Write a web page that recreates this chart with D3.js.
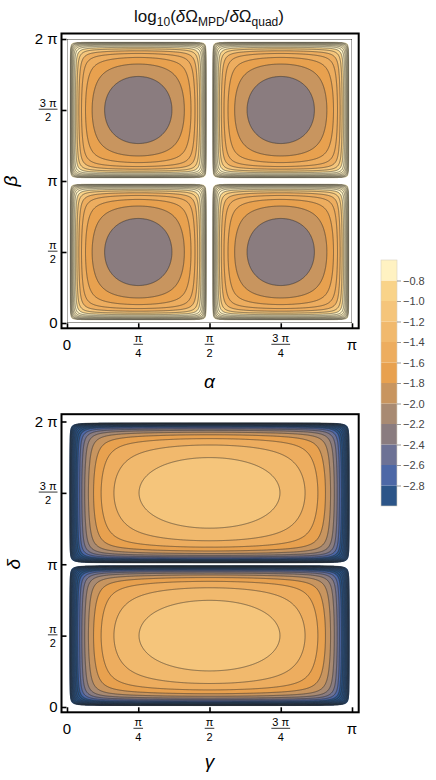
<!DOCTYPE html>
<html>
<head>
<meta charset="utf-8">
<script src="https://cdn.jsdelivr.net/npm/d3@7"></script>
<style>
  body { margin: 0; background: #fff; }
  svg text { font-family: "Liberation Sans", Arial, sans-serif; }
</style>
</head>
<body>
<div id="chart"></div>
<script>
var width = 436, height = 780
var PI = Math.PI

// legend bands of log10(dOmega_MPD / dOmega_quad)
var bandEdges = [-3.0, -2.8, -2.6, -2.4, -2.2, -2.0, -1.8, -1.6, -1.4, -1.2, -1.0, -0.8, -0.6]
var bandColors = ['#2c5588', '#4d68a6', '#6d7295', '#8a7c7f', '#a88a72', '#c8955f',
  '#e8a14f', '#edad5f', '#f1b96d', '#f5c57b', '#f9d389', '#fff2c2']
var legendTicks = [-2.8, -2.6, -2.4, -2.2, -2.0, -1.8, -1.6, -1.4, -1.2, -1.0, -0.8]

// contour levels (also outside the colour range, where the colour is clipped)
var contourLevels = [-4.6, -4.4, -4.2, -4.0, -3.8, -3.6, -3.4, -3.2, -3.0, -2.8, -2.6,
  -2.4, -2.2, -2.0, -1.8, -1.6, -1.4, -1.2, -1.0, -0.8, -0.6, -0.4, -0.2, 0.0, 0.2, 0.4]

// surface fits: [offset, slope, corner rounding]
// value = offset + slope * log10(2 + hx + hy + rounding * hx * hy),
// h grows from 0 at a cell centre to infinity at its edge
var topFit = [-2.93, 1.77, 0.03]
var topFreq = [2, 1]
var topCut = [-9, 0.6]      // outside this range the plot is left blank
var topColorShift = 0.2     // top panel bands read one step lighter than the legend
var bottomFit = [-0.523, -1.6, 0.08]
var bottomFreq = [1, 1]
var bottomCut = [-4.8, 9]
var bottomColorShift = 0

// ticks
var xTicks = [0, PI / 4, PI / 2, 3 * PI / 4, PI]
var xTickLabels = [['0'], ['π', '4'], ['π', '2'], ['3 π', '4'], ['π']]
var yTicks = [0, PI / 2, PI, 3 * PI / 2, 2 * PI]
var yTickLabels = [['0'], ['π', '2'], ['π'], ['3 π', '2'], ['2 π']]

var titleParts = [['log', ''], ['10', 'sub'], ['(', ''], ['δ', 'it'], ['Ω', ''], ['MPD', 'sub'],
  ['/', ''], ['δ', 'it'], ['Ω', ''], ['quad', 'sub'], [')', '']]

var panels = [
  { fit: topFit, freq: topFreq, cut: topCut, shift: topColorShift, xLabel: 'α', yLabel: 'β',
    frameTop: 33.5, frameBottom: 328.3, y0: 323, y2pi: 39, xLabelY: 388, yLabelX: 16.5 },
  { fit: bottomFit, freq: bottomFreq, cut: bottomCut, shift: bottomColorShift, xLabel: 'γ', yLabel: 'δ',
    frameTop: 414.2, frameBottom: 712.3, y0: 707, y2pi: 421.5, xLabelY: 768, yLabelX: 19.5 }
]

var frameLeft = 61.5, frameRight = 358.7

// distance term of one angle: 0 at the cell centre, blows up at the cell edge
function edgeTerm(angle) {
  var c2 = Math.sin(angle) * Math.sin(angle)
  var q = 1 - c2
  return q * (1 - 2 * q / 3) / c2
}

var svg = d3.select('#chart').append('svg')
  .attr('width', width)
  .attr('height', height)

var colorScale = d3.scaleThreshold()
  .domain(bandEdges.slice(1, -1))
  .range(bandColors)

var x = d3.scaleLinear().domain([0, PI]).range([67, 352])

panels.forEach(function(p, k) {
  var y = d3.scaleLinear().domain([0, 2 * PI]).range([p.y0, p.y2pi])

  // sample the surface on a grid, two samples per pixel
  var nx = 2 * Math.round(x(PI) - x(0))
  var ny = 2 * Math.round(p.y0 - p.y2pi)
  var gx = d3.scaleLinear().domain([0, nx]).range(x.range())
  var gy = d3.scaleLinear().domain([0, ny]).range([p.y2pi, p.y0])
  var values = new Float64Array(nx * ny)
  for (var j = 0; j < ny; j++) {
    for (var i = 0; i < nx; i++) {
      var a = x.invert(gx(i + 0.5)), b = y.invert(gy(j + 0.5))
      var hx = edgeTerm(p.freq[0] * a), hy = edgeTerm(p.freq[1] * b)
      var v = p.fit[0] + p.fit[1] * Math.log10(2 + hx + hy + p.fit[2] * hx * hy)
      values[j * nx + i] = isFinite(v) ? Math.max(-9, Math.min(9, v)) : (p.fit[1] > 0 ? 9 : -9)
    }
  }
  var ext = d3.extent(values)
  var low = Math.max(ext[0], p.cut[0])

  var proj = d3.geoTransform({
    point: function(px, py) { this.stream.point(gx(px), gy(py)) }
  })
  var path = d3.geoPath(proj)

  var clipId = 'clip-' + k
  svg.append('clipPath').attr('id', clipId)
    .append('rect')
    .attr('x', x(0) + 0.4).attr('y', p.y2pi + 0.4)
    .attr('width', x(PI) - x(0) - 0.8).attr('height', p.y0 - p.y2pi - 0.8)

  var g = svg.append('g').attr('clip-path', 'url(#' + clipId + ')')

  var levels = contourLevels.filter(l => l > low && l < p.cut[1])

  // base region, then each band above a contour level
  var fills = d3.contours().size([nx, ny]).thresholds([p.cut[0]].concat(levels))(values)
  g.selectAll('path.band')
    .data(fills)
    .enter()
    .append('path')
    .attr('class', 'band')
    .attr('d', path)
    .attr('fill', (d, i) => i === 0 ? colorScale(low) : colorScale(d.value + p.shift))

  var lines = d3.contours().size([nx, ny]).thresholds(levels)(values)
  g.selectAll('path.line')
    .data(lines)
    .enter()
    .append('path')
    .attr('class', 'line')
    .attr('d', path)
    .attr('fill', 'none')
    .attr('stroke', '#2a2a2a')
    .attr('stroke-opacity', 0.7)
    .attr('stroke-width', 0.75)

  // blank out where the value is above the plot range
  if (p.cut[1] < ext[1]) {
    var blank = d3.contours().size([nx, ny]).thresholds([p.cut[1]])(values)
    g.selectAll('path.blank')
      .data(blank)
      .enter()
      .append('path')
      .attr('d', path)
      .attr('fill', '#fff')
  }

  // frame
  svg.append('rect')
    .attr('x', frameLeft).attr('y', p.frameTop)
    .attr('width', frameRight - frameLeft).attr('height', p.frameBottom - p.frameTop)
    .attr('fill', 'none')
    .attr('stroke', '#000')
    .attr('stroke-width', 2)

  // inward ticks
  var xAxis = svg.append('g')
    .attr('transform', `translate(0,${p.frameBottom})`)
    .call(d3.axisBottom(x).tickValues(xTicks).tickSize(-5).tickFormat(''))
  xAxis.select('.domain').remove()
  xAxis.selectAll('line').attr('stroke-width', 1.6)

  var yAxis = svg.append('g')
    .attr('transform', `translate(${frameLeft},0)`)
    .call(d3.axisLeft(y).tickValues(yTicks).tickSize(-5).tickFormat(''))
  yAxis.select('.domain').remove()
  yAxis.selectAll('line').attr('stroke-width', 1.6)

  // x tick labels
  xTicks.forEach(function(t, i) {
    var parts = xTickLabels[i]
    var cx = x(t)
    if (parts.length === 1) {
      svg.append('text').text(parts[0])
        .attr('x', cx).attr('y', p.frameBottom + 21.5)
        .attr('text-anchor', 'middle')
        .attr('font-size', 15)
    } else {
      var bar = p.frameBottom + 16
      var num = svg.append('text').text(parts[0])
        .attr('x', cx).attr('y', bar - 2.5)
        .attr('text-anchor', 'middle').attr('font-size', 11)
      svg.append('text').text(parts[1])
        .attr('x', cx).attr('y', bar + 12.5)
        .attr('text-anchor', 'middle').attr('font-size', 11)
      var w = num.node().getComputedTextLength() + 2
      svg.append('line')
        .attr('x1', cx - w / 2).attr('x2', cx + w / 2)
        .attr('y1', bar).attr('y2', bar)
        .attr('stroke', '#000').attr('stroke-width', 0.8)
    }
  })

  // y tick labels
  yTicks.forEach(function(t, i) {
    var parts = yTickLabels[i]
    var cy = y(t)
    var right = 57.5
    if (parts.length === 1) {
      svg.append('text').text(parts[0])
        .attr('x', right).attr('y', cy + 5.3)
        .attr('text-anchor', 'end')
        .attr('font-size', 15)
    } else {
      var num = svg.append('text').text(parts[0])
        .attr('font-size', 11)
      var w = num.node().getComputedTextLength() + 2
      var cx = right - w / 2
      num.attr('x', cx).attr('y', cy - 3).attr('text-anchor', 'middle')
      svg.append('text').text(parts[1])
        .attr('x', cx).attr('y', cy + 11)
        .attr('text-anchor', 'middle').attr('font-size', 11)
      svg.append('line')
        .attr('x1', cx - w / 2).attr('x2', cx + w / 2)
        .attr('y1', cy - 0.8).attr('y2', cy - 0.8)
        .attr('stroke', '#000').attr('stroke-width', 0.8)
    }
  })

  // axis labels
  svg.append('text').text(p.xLabel)
    .attr('x', (x(0) + x(PI)) / 2).attr('y', p.xLabelY)
    .attr('text-anchor', 'middle')
    .attr('font-size', 19)
    .attr('font-style', 'italic')

  svg.append('text').text(p.yLabel)
    .attr('transform', `translate(${p.yLabelX},${y(PI)}) rotate(-90)`)
    .attr('text-anchor', 'middle')
    .attr('font-size', 19)
    .attr('font-style', 'italic')
})

// title
var title = svg.append('text')
  .attr('x', 209).attr('y', 21.5)
  .attr('text-anchor', 'middle')
  .attr('font-size', 17)
  .attr('fill', '#111')
var shift = 0
titleParts.forEach(function(tp) {
  var target = tp[1] === 'sub' ? 4 : 0
  title.append('tspan')
    .text(tp[0])
    .attr('dy', target - shift)
    .attr('font-size', tp[1] === 'sub' ? 12 : 17)
    .attr('font-style', tp[1] === 'it' ? 'italic' : 'normal')
  shift = target
})

// colour legend
var ly = d3.scaleLinear().domain([-3.0, -0.6]).range([506, 260])
var legend = svg.append('g')
legend.selectAll('rect')
  .data(bandColors)
  .enter()
  .append('rect')
  .attr('x', 381)
  .attr('width', 16)
  .attr('y', (d, i) => ly(bandEdges[i + 1]))
  .attr('height', (d, i) => ly(bandEdges[i]) - ly(bandEdges[i + 1]))
  .attr('fill', d => d)
legend.append('rect')
  .attr('x', 381).attr('y', ly(-0.6))
  .attr('width', 16).attr('height', ly(-3.0) - ly(-0.6))
  .attr('fill', 'none')
  .attr('stroke', '#d8d0c0')
  .attr('stroke-width', 0.6)

var legendAxis = legend.append('g')
  .attr('transform', 'translate(397,0)')
  .call(d3.axisRight(ly).tickValues(legendTicks).tickSize(4).tickPadding(2)
    .tickFormat(d => d3.format('.1f')(d).replace('-', '−')))
legendAxis.select('.domain').remove()
legendAxis.selectAll('line').attr('stroke', '#999')
legendAxis.selectAll('text')
  .attr('fill', '#444')
  .attr('font-size', 11)
  .attr('font-family', '"Liberation Sans", Arial, sans-serif')
</script>
</body>
</html>
